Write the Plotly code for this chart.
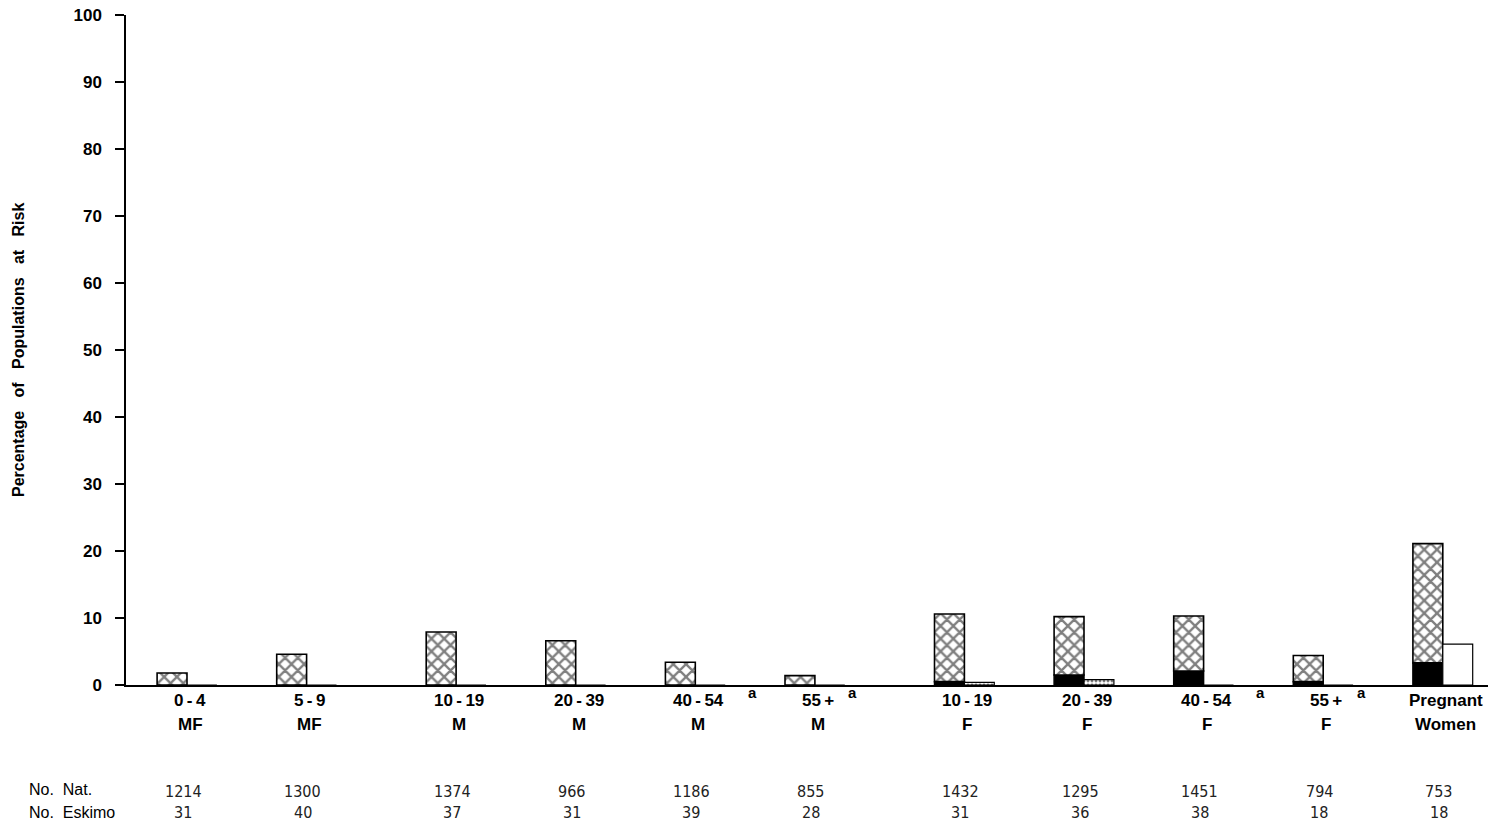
import plotly.graph_objects as go

# ---- data ----
age_labels = ["0-4", "5-9", "10-19", "20-39", "40-54", "55+", "10-19", "20-39", "40-54", "55+", "Pregnant"]
sex_labels = ["MF", "MF", "M", "M", "M", "M", "F", "F", "F", "F", "Women"]
footnote_a = [False, False, False, False, True, True, False, False, True, True, False]
no_nat = [1214, 1300, 1374, 966, 1186, 855, 1432, 1295, 1451, 794, 753]
no_eskimo = [31, 40, 37, 31, 39, 28, 31, 36, 38, 18, 18]
nat_total = [1.8, 4.6, 7.9, 6.6, 3.4, 1.4, 10.6, 10.2, 10.3, 4.4, 21.1]
nat_black = [0, 0, 0, 0, 0, 0, 0.5, 1.5, 2.1, 0.5, 3.3]
eskimo_vals = [0, 0, 0, 0, 0, 0, 0.4, 0.8, 0, 0, 6.1]
y_ticks = [0, 10, 20, 30, 40, 50, 60, 70, 80, 90, 100]

# ---- layout helpers ----
sections = [0, 0, 1, 1, 1, 1, 2, 2, 2, 2, 2]
pos = [i + 0.25 * s for i, s in enumerate(sections)]
bw = 0.25
x_nat = [p - bw / 2 for p in pos]
x_esk = [p + bw / 2 for p in pos]
nat_hatch = [t - b for t, b in zip(nat_total, nat_black)]

def fmt(label):
    return label.replace("-", "\u2009-\u2009").replace("+", "\u2009+")

fig = go.Figure()
fig.add_trace(go.Bar(
    x=x_nat, y=nat_black, width=bw,
    marker=dict(color="black", line=dict(color="black", width=1.5)),
    showlegend=False, hoverinfo="skip"))
fig.add_trace(go.Bar(
    x=x_nat, y=nat_hatch, base=nat_black, width=bw,
    marker=dict(color="white", line=dict(color="black", width=1.6),
                pattern=dict(shape="x", size=9, solidity=0.45,
                             fgcolor="black", bgcolor="white")),
    showlegend=False, hoverinfo="skip"))
esk_shapes = ["." if v < 2 else "" for v in eskimo_vals]
fig.add_trace(go.Bar(
    x=x_esk, y=eskimo_vals, width=bw,
    marker=dict(color="white", line=dict(color="black", width=1.2),
                pattern=dict(shape=esk_shapes, size=4, solidity=0.4,
                             fgcolor="black", bgcolor="white")),
    showlegend=False, hoverinfo="skip"))

annots = []
sans = "Liberation Sans, Arial, sans-serif"
bold = dict(family=sans, size=17, color="black")
thin = dict(family="DejaVu Sans Condensed, Liberation Sans Narrow, Arial Narrow, sans-serif",
            size=16, color="#222")
for i, p in enumerate(pos):
    annots.append(dict(x=p, y=0, xref="x", yref="y", text="<b>%s</b>" % fmt(age_labels[i]),
                       showarrow=False, yanchor="middle", yshift=-15, xshift=3, font=bold))
    annots.append(dict(x=p, y=0, xref="x", yref="y", text="<b>%s</b>" % sex_labels[i],
                       showarrow=False, yanchor="middle", yshift=-39, xshift=3, font=bold))
    if footnote_a[i]:
        annots.append(dict(x=p, y=0, xref="x", yref="y", text="<b>a</b>",
                           showarrow=False, yanchor="middle", yshift=-7,
                           xshift=57 if len(age_labels[i]) > 3 else 38,
                           font=dict(family=sans, size=15, color="black")))
    annots.append(dict(x=p, y=0, xref="x", yref="y", text=str(no_nat[i]),
                       showarrow=False, yanchor="middle", yshift=-106, xshift=-4, font=thin))
    annots.append(dict(x=p, y=0, xref="x", yref="y", text=str(no_eskimo[i]),
                       showarrow=False, yanchor="middle", yshift=-127, xshift=-4, font=thin))

left_px = -99 / 1362
annots.append(dict(x=left_px, y=0, xref="paper", yref="y", text="No.\u00a0 Nat.",
                   showarrow=False, xanchor="left", yanchor="middle", yshift=-104,
                   font=dict(family=sans, size=16, color="black")))
annots.append(dict(x=left_px, y=0, xref="paper", yref="y", text="No.\u00a0 Eskimo",
                   showarrow=False, xanchor="left", yanchor="middle", yshift=-127,
                   font=dict(family=sans, size=16, color="black")))
annots.append(dict(x=-108 / 1362, y=0.5, xref="paper", yref="paper",
                   text="<b>Percentage\u00a0\u00a0 of\u00a0\u00a0 Populations\u00a0\u00a0 at\u00a0\u00a0 Risk</b>",
                   textangle=-90, showarrow=False, xanchor="center", yanchor="middle",
                   font=dict(family=sans, size=16, color="black")))

fig.update_layout(
    width=1488, height=822,
    margin=dict(l=126, r=0, t=15, b=137),
    paper_bgcolor="white", plot_bgcolor="white",
    barmode="overlay",
    annotations=annots,
    xaxis=dict(range=[pos[0] - 61 / 119.6, pos[0] + 1301 / 119.6],
               showline=True, linecolor="black", linewidth=1.5,
               showticklabels=False, ticks="", showgrid=False, zeroline=False, fixedrange=True),
    yaxis=dict(range=[0, 100], tickvals=y_ticks, ticktext=["<b>%d</b>" % t for t in y_ticks],
               showline=True, linecolor="black", linewidth=1.5,
               ticks="outside", ticklen=9, tickwidth=1.5, tickcolor="black",
               ticklabelstandoff=10,
               tickfont=dict(family=sans, size=17, color="black"),
               showgrid=False, zeroline=False, fixedrange=True),
)

fig.write_html("out.html", config={"displayModeBar": False},
               post_script="document.body.style.margin='0';document.body.style.overflow='hidden';")
